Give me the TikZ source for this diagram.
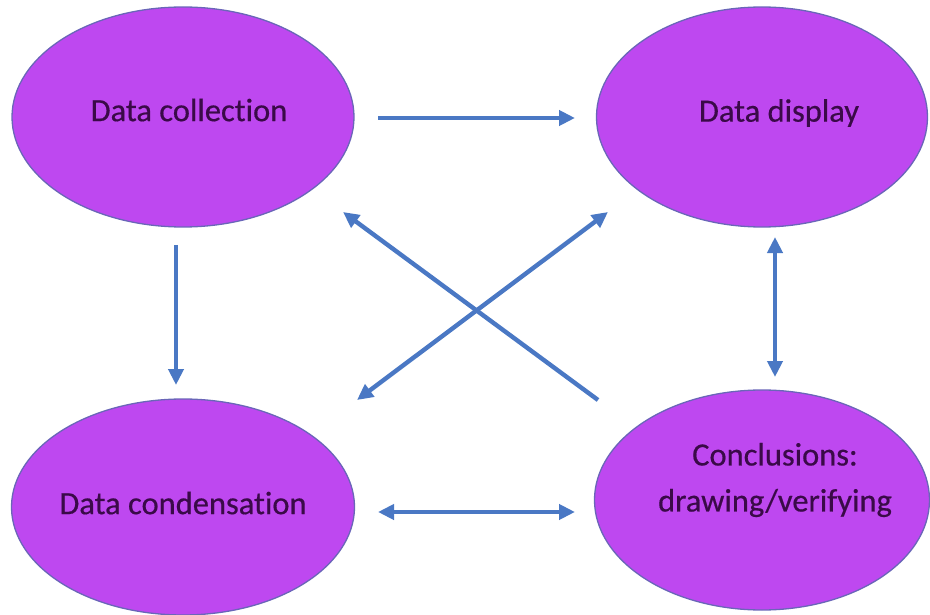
\documentclass[tikz,border=0pt]{standalone}
\usepackage{fontspec}
\setmainfont{Carlito}
\newfontfamily\blobfont[FakeBold=0.5,Ligatures=NoCommon]{Carlito}
\usetikzlibrary{shapes.geometric,arrows.meta,calc}
\definecolor{blobfill}{HTML}{BE48F0}
\definecolor{blobline}{HTML}{6A66B8}
\definecolor{blobtext}{HTML}{3A0A48}
\definecolor{arrowblue}{HTML}{4A78C4}
\begin{document}
\begin{tikzpicture}[x=1pt,y=-1pt,
  blob/.style={ellipse,draw=blobline,line width=1.3pt,fill=blobfill,inner sep=0pt},
  lbl/.style={text=blobtext,font=\blobfont\fontsize{32.5}{46}\selectfont,align=center,inner sep=0pt},
  conn/.style={draw=arrowblue,line width=4.4pt,-{Triangle[length=16pt,width=15pt]}},
  conn2/.style={draw=arrowblue,line width=4.4pt,{Triangle[length=16pt,width=15pt]}-{Triangle[length=16pt,width=15pt]}}]
\useasboundingbox (0,0) rectangle (930,615);
\node[blob,minimum width=342pt,minimum height=220pt] (col) at (183,117) {};
\node[blob,minimum width=331pt,minimum height=220pt] (dis) at (762,117) {};
\node[blob,minimum width=343pt,minimum height=216pt] (cond) at (183,507) {};
\node[blob,minimum width=335pt,minimum height=220pt] (conc) at (762,500) {};
\node[lbl] (tcol) at (189,110) {Data collection};
\node[lbl] (tdis) at (779,113) {Data display};
\node[lbl] (tcond) at (183,503) {Data condensation};
\node[lbl] (tconc) at (775,480) {Conclusions:\\drawing/verifying};
\draw[conn] ($(col.center)+(195,1)$) -- ($(dis.center)+(-187,1)$);
\draw[conn] ($(col.center)+(-7,128)$) -- ($(cond.center)+(-7,-122)$);
\draw[conn2] ($(dis.center)+(13,120)$) -- ($(conc.center)+(13,-123)$);
\draw[conn2] ($(cond.center)+(195,5)$) -- ($(conc.center)+(-187,12)$);
\draw[conn] ($(conc.center)+(-164,-100)$) -- ($(col.center)+(160,95)$);
\draw[conn2] ($(dis.center)+(-154,95)$) -- ($(cond.center)+(174,-107)$);
\end{tikzpicture}
\end{document}
